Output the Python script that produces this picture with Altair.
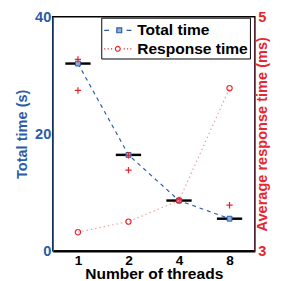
import altair as alt
import pandas as pd

threads = ["1", "2", "4", "8"]
total_time = [32.0, 16.4, 8.6, 5.5]
median_total = [32.0, 16.4, 8.6, 5.5]
response_time = [3.16, 3.25, 3.43, 4.39]
outlier_threads = ["1", "1", "2", "2", "4", "8"]
outlier_values = [32.7, 27.4, 13.8, 16.3, 8.7, 7.8]
series = ["Total time", "Response time"]

BLUE = "#2b5ba9"
LIGHTBLUE = "#8fb0e0"
RED = "#e8262e"
LIGHTRED = "#f59a9a"
FONT = "Liberation Sans"

df = pd.DataFrame({"threads": threads, "total": total_time,
                   "median": median_total, "response": response_time})
out = pd.DataFrame({"threads": outlier_threads, "value": outlier_values})
leg = pd.DataFrame({"series": series})

# legend glyphs (symbol size 400 -> r = 10 px; path drawn from -1 to 1.8)
P_TOTAL = "M-1,0H-0.5M0.3,-0.25H0.8V0.25H0.3ZM1.3,0H1.8"
P_RESP = ("M-1,0H-0.88M-0.65,0H-0.53M-0.3,0H-0.18"
          "M1.0,0H1.12M1.35,0H1.47M1.68,0H1.8"
          "M0.65,0A0.25,0.25 0 1 1 0.15,0A0.25,0.25 0 1 1 0.65,0Z")

legend = alt.Legend(
    title=None, orient="none", legendX=50, legendY=1, direction="vertical",
    strokeColor="black", padding=2, labelFont=FONT, labelFontWeight="bold",
    labelFontSize=16, labelColor="black", symbolSize=400, labelOffset=13,
    rowPadding=0, symbolOpacity=1, symbolStrokeWidth=1.2,
)

x = alt.X("threads:O", sort=threads, scale=alt.Scale(type="point", padding=0.5),
          axis=alt.Axis(title="Number of threads", labelAngle=0, labelColor="black",
                        titleColor="black", domainColor="black", domainWidth=2.5,
                        ticks=False, labelPadding=3, titlePadding=-2,
                        labelFontSize=14, titleFontSize=16))

y_left = alt.Y("total:Q", scale=alt.Scale(domain=[0, 40]),
               axis=alt.Axis(orient="left", title="Total time (s)", values=[0, 20, 40],
                             labelColor=BLUE, titleColor=BLUE, domainColor=BLUE,
                             domainWidth=1.5, tickSize=0, labelPadding=2,
                             titlePadding=5, grid=False, labelFontSize=15,
                             titleFontSize=15))

base = alt.Chart(df)
line_total = base.mark_line(strokeDash=[4, 4], strokeWidth=1.2, color=BLUE).encode(
    x=x, y=y_left)
ticks = base.mark_tick(color="black", thickness=2.5, size=26, opacity=1).encode(
    x=x, y=alt.Y("median:Q"))
squares = base.mark_point(shape="square", filled=True, size=25, fill=LIGHTBLUE,
                          stroke=BLUE, strokeWidth=1, opacity=1).encode(
    x=x, y=alt.Y("total:Q"))
pluses = alt.Chart(out).mark_point(shape="M-1,0H1M0,-1V1", size=42, filled=False,
                                   color=RED, strokeWidth=1.3, opacity=1).encode(
    x=x, y=alt.Y("value:Q"))

left = alt.layer(line_total, ticks, squares, pluses)

y_right = alt.Y("response:Q", scale=alt.Scale(domain=[3, 5]),
                axis=alt.Axis(orient="right", title="Average response time (ms)",
                              values=[3, 4, 5], format="d", labelColor=RED,
                              titleColor=RED, domainColor="#b0405e", domainWidth=1.5,
                              tickSize=0, labelPadding=3, titlePadding=4,
                              titleAngle=270, grid=False, labelFontSize=15,
                              titleFontSize=15))
line_resp = base.mark_line(strokeDash=[1.5, 3], strokeWidth=1.2, color=LIGHTRED).encode(
    x=x, y=y_right)
circles = base.mark_point(shape="circle", filled=False, size=30, color=RED,
                          strokeWidth=1.2, opacity=1).encode(
    x=x, y=alt.Y("response:Q"))
legend_layer = alt.Chart(leg).mark_point(filled=False, opacity=0).encode(
    color=alt.Color("series:N", scale=alt.Scale(domain=series, range=[BLUE, RED]),
                    legend=legend),
    shape=alt.Shape("series:N", scale=alt.Scale(domain=series, range=[P_TOTAL, P_RESP]),
                    legend=legend),
    fill=alt.Fill("series:N", scale=alt.Scale(domain=series,
                                              range=[LIGHTBLUE, "transparent"]),
                  legend=legend),
)
right = alt.layer(line_resp, circles, legend_layer)

chart = alt.layer(left, right).resolve_scale(y="independent").properties(
    width=208, height=241,
    autosize=alt.AutoSizeParams(type="none"),
    padding={"left": 46, "top": 5, "right": 28, "bottom": 27},
).configure(font=FONT).configure_axis(
    labelFont=FONT, titleFont=FONT, labelFontWeight="bold", titleFontWeight="bold"
).configure_view(stroke="black", strokeWidth=1.5)

chart.save("out.html", embed_options={"renderer": "svg", "actions": False})
